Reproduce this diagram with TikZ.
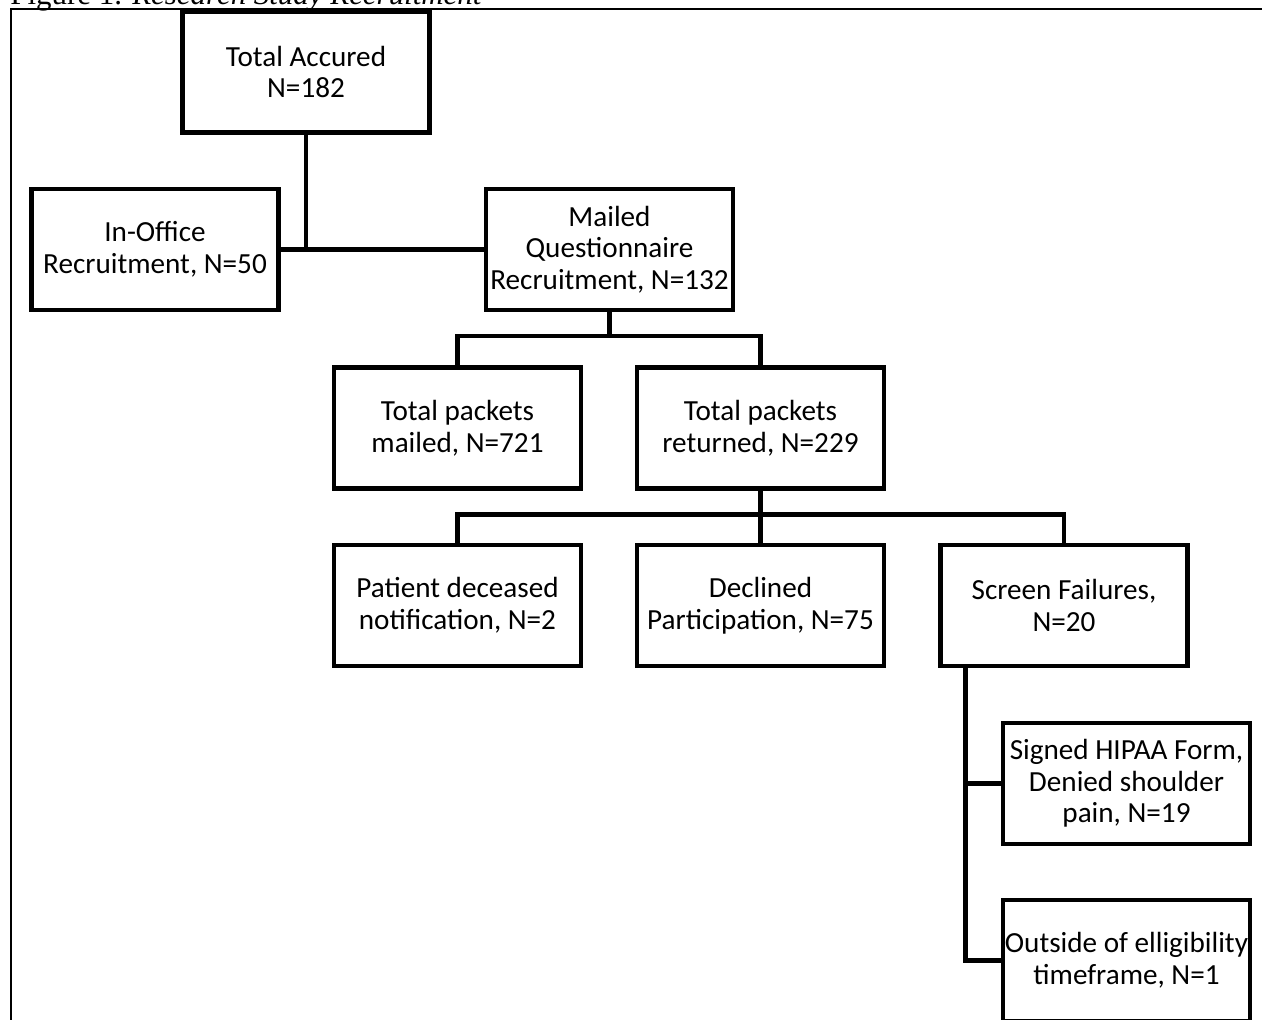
\documentclass[tikz,border=0pt]{standalone}
\usepackage{fontspec}
\setmainfont{Carlito}
\newfontfamily\captionfont{Liberation Serif}
\usetikzlibrary{calc}

\tikzset{
  box/.style={draw, rectangle, line width=2.8pt, minimum width=4.94cm, minimum height=2.42cm,
    align=center, inner sep=1pt, outer sep=0pt, font=\fontsize{16.6}{18}\selectfont},
  link/.style={line width=2.5pt},
}

\begin{document}
\begin{tikzpicture}[x=0.02cm, y=-0.02cm]
            \useasboundingbox (0,0) rectangle (1262,1019);
            % caption and frame
            \node[anchor=base west, inner sep=0pt, font=\captionfont\fontsize{17.6}{19}\selectfont] (caption) at (10,4)
                {Figure 1. \textit{Research Study Recruitment}};
            \draw[line width=1.1pt] (11,1040) -- (11,9) -- (1280,9);

            % boxes
            \node[box] (total) at (306,72) {Total Accured\\N=182};
            \node[box] (office) at (155,249.5) {In-Office\\Recruitment, N=50};
            \node[box] (mailed) at (609.5,249.5) {Mailed\\Questionnaire\\Recruitment, N=132};
            \node[box] (packets) at (457.5,428) {Total packets\\mailed, N=721};
            \node[box] (returned) at (760.5,428) {Total packets\\returned, N=229};
            \node[box] (deceased) at (457.5,605.5) {Patient deceased\\notification, N=2};
            \node[box] (declined) at (760.5,605.5) {Declined\\Participation, N=75};
            \node[box] (screen) at (1064,605.5) {Screen Failures,\\N=20};
            \node[box] (hipaa) at (1126.5,783.5) {Signed HIPAA Form,\\Denied shoulder\\pain, N=19};
            \node[box] (outside) at (1126.5,960.5) {Outside of elligibility\\timeframe, N=1};

            % connectors
            \draw[link] (total) -- (total |- office);
            \draw[link] (office) -- (mailed);
            \draw[link] (mailed.south) -- ++(0,26) -| (packets.north);
            \draw[link] (mailed.south) -- ++(0,26) -| (returned.north);
            \draw[link] (returned.south) -- ++(0,26) -| (deceased.north);
            \draw[link] (returned.south) -- (declined.north);
            \draw[link] (returned.south) -- ++(0,26) -| (screen.north);
            \draw[link] ($(screen.south west)+(25,0)$) |- (hipaa.west);
            \draw[link] ($(screen.south west)+(25,0)$) |- (outside.west);
        \end{tikzpicture}
\end{document}
